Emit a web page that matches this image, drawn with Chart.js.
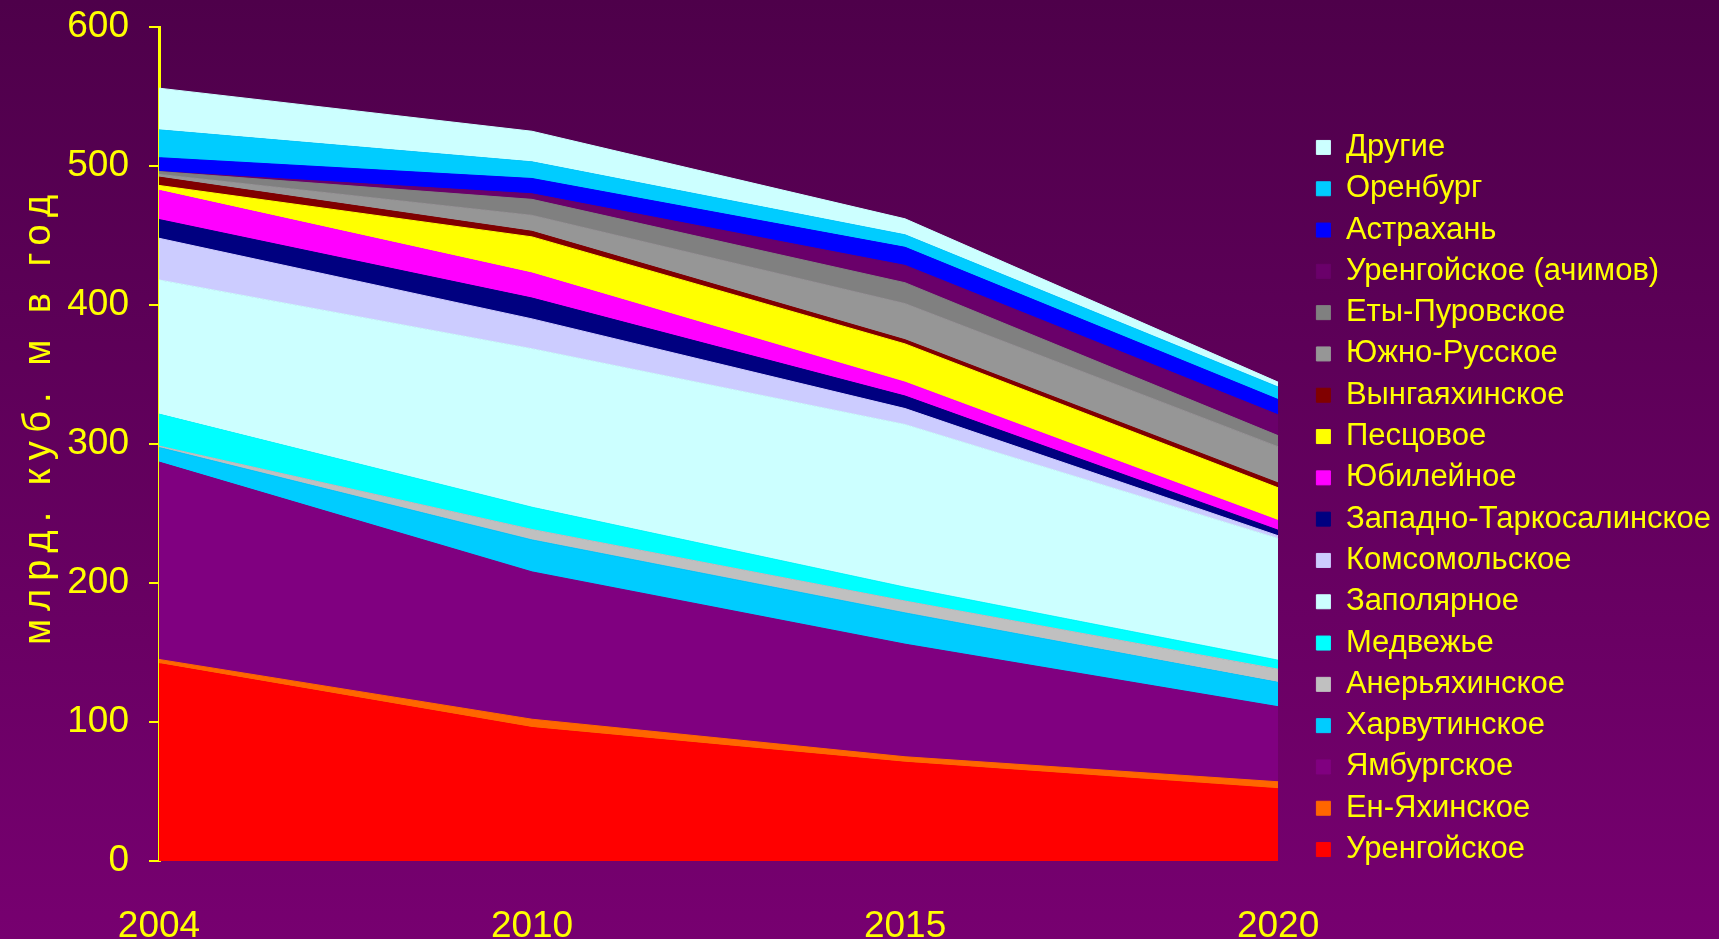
<!DOCTYPE html>
<html lang="ru">
<head>
<meta charset="UTF-8">
<title>Добыча газа по месторождениям</title>
<script src="https://cdn.jsdelivr.net/npm/chart.js@4"></script>
<style>
    html, body { margin: 0; padding: 0; }
    body {
        width: 1719px; height: 939px; overflow: hidden;
        background: linear-gradient(to bottom, #4e004a 0%, #770070 100%);
    }
    #chartContainer { position: relative; width: 1719px; height: 939px; }
</style>
</head>
<body>
<div id="chartContainer"><canvas id="gasChart"></canvas></div>
<script>
const years = ['2004', '2010', '2015', '2020'];

// добыча, млрд. куб. м в год (слои снизу вверх)
const urengoy      = [142, 96, 71, 52];
const enYakha      = [3, 6, 4, 5];
const yamburg      = [142, 106, 81, 54];
const kharvuta     = [10.5, 23, 22.5, 17.5];
const aneryakha    = [1, 7.5, 8.5, 9.5];
const medvezhye    = [23, 16, 10, 6.5];
const zapolyarnoe  = [96.5, 114, 117, 87.5];
const komsomolskoe = [30, 21.5, 11.5, 2];
const zapTarko     = [13.5, 15, 9, 4];
const yubileynoe   = [21, 18, 10, 7];
const pestsovoe    = [3.5, 26, 27.5, 23.5];
const vyngayakha   = [6, 4, 3, 3.5];
const yuzhnoRusskoe = [2, 11.5, 26, 26];
const etyPurovskoe = [2, 11.5, 15, 8];
const achimov      = [0, 4, 12.5, 15];
const astrakhan    = [10, 11, 13, 11];
const orenburg     = [20, 12, 9, 9];
const others       = [30, 22, 11.5, 3.5];

const names = [
    'Уренгойское', 'Ен-Яхинское', 'Ямбургское', 'Харвутинское', 'Анерьяхинское',
    'Медвежье', 'Заполярное', 'Комсомольское', 'Западно-Таркосалинское', 'Юбилейное',
    'Песцовое', 'Вынгаяхинское', 'Южно-Русское', 'Еты-Пуровское', 'Уренгойское (ачимов)',
    'Астрахань', 'Оренбург', 'Другие'
];
const series = [
    urengoy, enYakha, yamburg, kharvuta, aneryakha,
    medvezhye, zapolyarnoe, komsomolskoe, zapTarko, yubileynoe,
    pestsovoe, vyngayakha, yuzhnoRusskoe, etyPurovskoe, achimov,
    astrakhan, orenburg, others
];
const colors = [
    '#ff0000', '#ff6600', '#800080', '#00ccff', '#c0c0c0',
    '#00ffff', '#ccffff', '#ccccff', '#000080', '#ff00ff',
    '#ffff00', '#800000', '#969696', '#808080', '#6a006a',
    '#0000ff', '#00ccff', '#ccffff'
];

const yellow = '#ffff00';
const sans = "'Liberation Sans', Arial, sans-serif";

const datasets = series.map((values, i) => ({
    label: names[i],
    data: values,
    backgroundColor: colors[i],
    borderColor: colors[i],
    borderWidth: 1,
    pointRadius: 0,
    tension: 0,
    fill: i === 0 ? 'origin' : '-1'
}));

// the axis title in the original is letter-spaced and sits a bit above the middle
const spacedTitle = {
    id: 'spacedTitle',
    beforeDraw(chart) {
        const s = chart.scales.y;
        if (s._spaced) return;
        const draw = s.drawTitle;
        s.drawTitle = function () {
            this.ctx.save();
            this.ctx.letterSpacing = '8px';
            this.ctx.translate(0, -28);
            draw.call(this);
            this.ctx.restore();
        };
        s._spaced = true;
    }
};

// leave a gap between the plot and the legend, as on the slide
const legendGap = {
    id: 'legendGap',
    afterLayout(chart) {
        chart.legend.left += 28;
        chart.legend.right += 28;
    }
};

new Chart(document.getElementById('gasChart'), {
    type: 'line',
    data: { labels: years, datasets: datasets },
    plugins: [spacedTitle, legendGap],
    options: {
        responsive: true,
        maintainAspectRatio: false,
        animation: false,
        layout: { padding: { top: 27, right: 26, bottom: 0, left: 0 } },
        scales: {
            x: {
                offset: false,
                grid: { display: false, drawTicks: false },
                border: { display: false },
                ticks: { color: yellow, font: { family: sans, size: 37 }, padding: 44, maxRotation: 0 },
                afterFit(s) { s.height = 78; }
            },
            y: {
                stacked: true,
                min: 0,
                max: 600,
                ticks: { stepSize: 100, color: yellow, font: { family: sans, size: 37 }, padding: 20 },
                grid: { drawOnChartArea: false, color: yellow, lineWidth: 2, tickLength: 10 },
                border: { display: true, color: yellow, width: 3 },
                title: {
                    display: true,
                    text: 'млрд. куб. м в год',
                    color: yellow,
                    font: { family: sans, size: 38 },
                    padding: { top: 17, bottom: 0 }
                },
                afterFit(s) {
                    s.width = 159;
                    s.paddingTop = 0;
                    s.paddingBottom = 0;
                }
            }
        },
        plugins: {
            tooltip: { enabled: false },
            legend: {
                position: 'right',
                reverse: true,
                align: 'center',
                title: { display: true, text: ' ', font: { size: 10 }, padding: { top: 19, bottom: 0 } },
                labels: {
                    color: yellow,
                    font: { family: sans, size: 31 },
                    boxWidth: 14,
                    boxHeight: 14,
                    padding: 10.3
                }
            }
        }
    }
});
</script>
</body>
</html>
